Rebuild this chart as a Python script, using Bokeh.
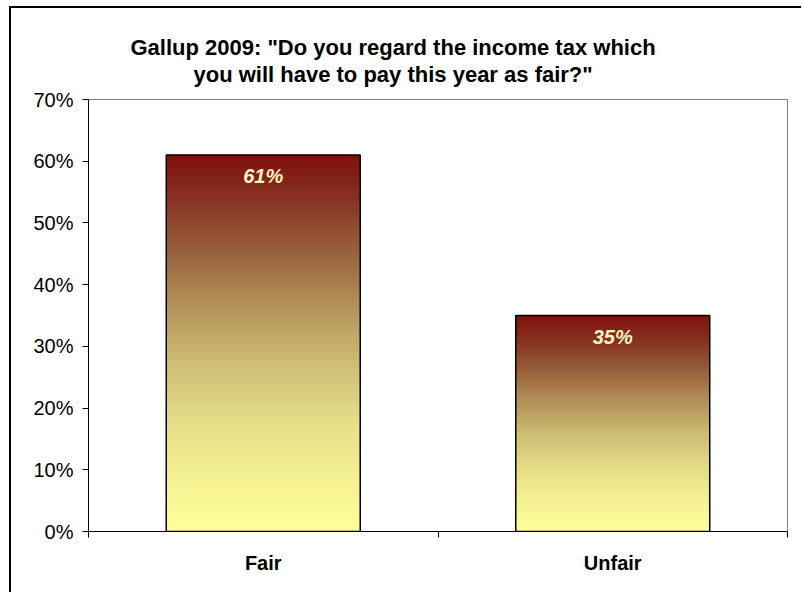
import numpy as np
from bokeh.plotting import figure
from bokeh.models import Range1d, FixedTicker, NumeralTickFormatter, Title, ColumnDataSource
from bokeh.core.properties import value
from bokeh.embed import file_html
from bokeh.resources import INLINE

# ---- data ----
categories = ["Fair", "Unfair"]
shares = [0.61, 0.35]
y_ticks = [0.0, 0.1, 0.2, 0.3, 0.4, 0.5, 0.6, 0.7]
title_lines = ['Gallup 2009: "Do you regard the income tax which',
               'you will have to pay this year as fair?"']

FONT = "Liberation Sans"

p = figure(width=792, height=586, output_backend="svg", toolbar_location=None,
           x_range=Range1d(0, 2), y_range=Range1d(0, 0.7),
           min_border_left=77, min_border_right=16, min_border_top=91, min_border_bottom=63)
p.styles = {"margin-top": "6px", "margin-left": "9px",
            "border-top": "2px solid black", "border-left": "2px solid black"}
p.xgrid.visible = False
p.ygrid.visible = False
p.outline_line_color = "#808080"
p.outline_line_width = 1
p.background_fill_color = "white"
p.border_fill_color = "white"

# gradient colour stops (t = 0 at bar bottom, 1 at bar top)
stop_t = [0.0, 0.15, 0.30, 0.45, 0.60, 0.75, 0.88, 1.0]
stop_rgb = np.array([(255, 255, 153), (243, 240, 145), (228, 220, 135), (205, 188, 115),
                     (178, 145, 88), (150, 95, 58), (135, 50, 35), (128, 16, 12)], dtype=float)

def grad(t):
    r = np.interp(t, stop_t, stop_rgb[:, 0])
    g = np.interp(t, stop_t, stop_rgb[:, 1])
    b = np.interp(t, stop_t, stop_rgb[:, 2])
    return "#%02x%02x%02x" % (int(round(r)), int(round(g)), int(round(b)))

centers = [i + 0.5 for i in range(len(categories))]
bar_w = 0.555
N = 90
L, R, B, T, C = [], [], [], [], []
for c, v in zip(centers, shares):
    for k in range(N):
        L.append(c - bar_w / 2)
        R.append(c + bar_w / 2)
        B.append(v * k / N)
        T.append(v)
        C.append(grad((k + 0.5) / N))
p.quad(left=L, right=R, bottom=B, top=T, fill_color=C, line_color=None)
p.vbar(x=centers, width=bar_w, top=shares, bottom=0, fill_color=None,
       line_color="black", line_width=1.5)

src = ColumnDataSource(dict(x=centers, y=shares, t=["%d%%" % round(v * 100) for v in shares]))
p.text(x="x", y="y", text="t", source=src, text_align="center", text_baseline="middle",
       y_offset=21, text_font=value(FONT), text_font_size="20px", text_font_style="bold italic",
       text_color="#fff5c0")

# y axis
ya = p.yaxis[0]
ya.ticker = FixedTicker(ticks=y_ticks)
ya.formatter = NumeralTickFormatter(format="0%")
ya.major_tick_out = 6
ya.major_tick_in = 0
ya.minor_tick_out = 0
ya.minor_tick_in = 0
ya.axis_line_color = "black"
ya.major_tick_line_color = "black"
ya.major_label_standoff = 9
ya.major_label_text_font = FONT
ya.major_label_text_font_size = "20px"
ya.major_label_text_color = "black"

# x axis
xa = p.xaxis[0]
xa.ticker = FixedTicker(ticks=centers, minor_ticks=[0, 1, 2])
xa.major_label_overrides = {c: n for c, n in zip(centers, categories)}
xa.major_tick_line_color = None
xa.major_tick_out = 0
xa.major_tick_in = 0
xa.minor_tick_out = 6
xa.minor_tick_in = 0
xa.minor_tick_line_color = "black"
xa.axis_line_color = "black"
xa.major_label_standoff = 14
xa.major_label_text_font = FONT
xa.major_label_text_font_size = "20px"
xa.major_label_text_font_style = "bold"
xa.major_label_text_color = "black"

# spacer between the frame and the title lines
p.add_layout(Title(text=" ", text_font=FONT, text_font_size="10px", standoff=0), "above")
# title (two lines): later-added goes farther from the frame
for line, so, off in zip(reversed(title_lines), [0, 0], [105, 42]):
    p.add_layout(Title(text=line, align="left", offset=off, standoff=so,
                       text_font=FONT, text_font_size="22px", text_font_style="bold",
                       text_color="black"), "above")

open("out.html", "w").write(file_html(p, INLINE))
